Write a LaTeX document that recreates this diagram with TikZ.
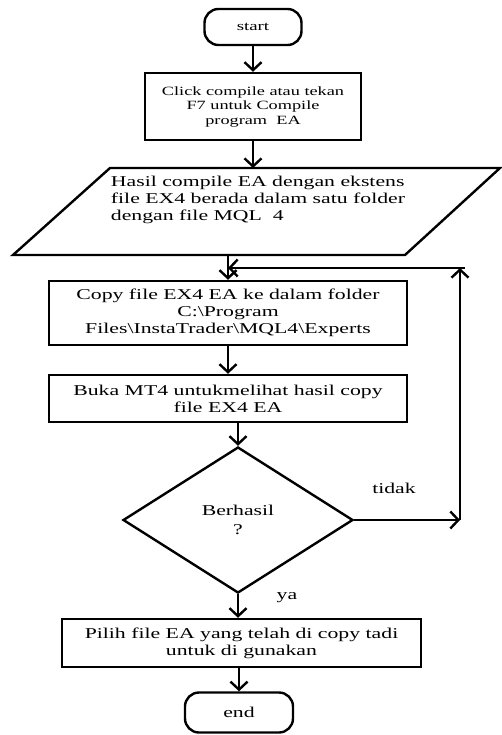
\documentclass[tikz,border=0pt]{standalone}
\usepackage{fontspec}
\setmainfont{Liberation Serif}[FakeStretch=1.45]
\usetikzlibrary{shapes.geometric,arrows.meta}

\begin{document}
\begin{tikzpicture}[x=1pt, y=-1pt, line width=2.4pt,
        box/.style={draw, rectangle, inner sep=0pt, align=center, font=\fontsize{15}{17}\selectfont},
        term/.style={draw, rectangle, rounded corners=14pt, inner sep=0pt, font=\fontsize{15}{17}\selectfont},
        cond/.style={draw, diamond, inner sep=0pt, align=center, font=\fontsize{15}{19}\selectfont},
        lbl/.style={font=\fontsize{15}{17}\selectfont},
        arr/.style={-{Straight Barb[length=8pt, width=17pt]}}]
            \useasboundingbox (0,0) rectangle (502,735);

            \node[term, minimum width=97, minimum height=36, font=\fontsize{13}{15}\selectfont] (start) at (253,27) {start};
            \node[box, minimum width=216, minimum height=67, font=\fontsize{12.6}{14.5}\selectfont] (compile) at (253,106.5) {Click compile atau tekan\\F7 untuk Compile\\program~~EA};

            \coordinate (paratl) at (110,168);
            \coordinate (paratr) at (500,168);
            \coordinate (parabr) at (405,255);
            \coordinate (parabl) at (13,255);
            \draw[line join=miter] (paratl) -- (paratr) -- (parabr) -- (parabl) -- cycle;
            \node[lbl, align=left] (hasil) at (258,200) {Hasil compile EA dengan ekstens\\file EX4 berada dalam satu folder\\dengan file MQL~~4};

            \node[box, minimum width=358, minimum height=64] (copy) at (228,313) {Copy file EX4 EA ke dalam folder\\C:\textbackslash Program\\Files\textbackslash InstaTrader\textbackslash MQL4\textbackslash Experts};
            \node[box, minimum width=358, minimum height=47] (buka) at (228,398.5) {Buka MT4 untukmelihat hasil copy\\file EX4 EA};
            \node[cond, minimum width=230, minimum height=146] (cek) at (238,520) {Berhasil\\?};
            \node[box, minimum width=359, minimum height=48] (pilih) at (241.5,643) {Pilih file EA yang telah di copy tadi\\untuk di gunakan};
            \node[term, minimum width=108, minimum height=40] (stop) at (239,712.5) {end};

            \node[lbl] (tidak) at (394,488) {tidak};
            \node[lbl] (ya) at (287,598) {ya};

            \coordinate (turnlow) at (460,520);
            \coordinate (turnhigh) at (460,268);

            \draw[arr] (start.south) -- (start.south |- compile.north);
            \draw[arr] (compile.south) -- (compile.south |- paratl);
            \draw[arr] (copy.north |- parabl) -- (copy.north);
            \draw[arr] (copy.south) -- (buka.north);
            \draw[arr] (buka.south -| cek.north) -- (cek.north);
            \draw[arr] (cek.south) -- (cek.south |- pilih.north);
            \draw[arr] (pilih.south -| stop.north) -- (stop.north);

            \draw[arr] (cek.east) -- (turnlow);
            \draw[arr] (turnlow) -- (turnhigh);
            \draw[arr] ([xshift=5pt]turnhigh) -- (turnhigh -| copy.north);
        \end{tikzpicture}
\end{document}
